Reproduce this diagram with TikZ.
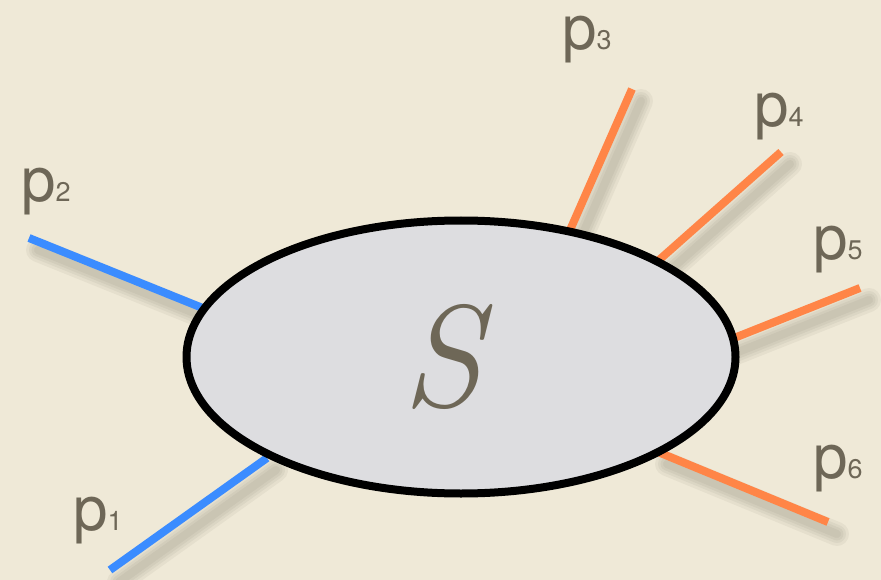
\documentclass[tikz,border=0pt]{standalone}
\usepackage{fontspec}
\setsansfont{TeX Gyre Heros}
\usetikzlibrary{shapes.geometric}
\definecolor{sbg}{HTML}{EFE9D7}
\definecolor{sblob}{HTML}{DDDDE0}
\definecolor{sink}{HTML}{6E6757}
\definecolor{sblue}{HTML}{3B8CFF}
\definecolor{sorange}{HTML}{FF8547}
\definecolor{sshadow}{HTML}{4A4636}
\tikzset{
  blob/.style={ellipse, draw=black, fill=sblob, line width=8pt,
               minimum width=549pt, minimum height=273pt, inner sep=0pt},
  slabel/.style={inner sep=0pt, text=sink,
                 font=\fontsize{145}{145}\selectfont\itshape},
  inleg/.style={line width=8pt, sblue},
  outleg/.style={line width=8pt, sorange},
  legshadow/.style={line width=#1, sshadow, opacity=0.06, line cap=round,
                    transform canvas={shift={(9,12)}}},
  plabel/.style={anchor=base west, inner sep=0pt, text=sink,
                 font=\sffamily\fontsize{62}{62}\selectfont},
}
\newcommand{\psub}[1]{{\fontsize{27}{27}\selectfont #1}}

\begin{document}
\begin{tikzpicture}[x=1pt, y=-1pt]
    \fill[sbg] (0,0) rectangle (881,580);

    % outer and inner ends of the legs
    \coordinate (e1) at (110,570);  \coordinate (i1) at (267,458);
    \coordinate (e2) at (29,238);   \coordinate (i2) at (215,313);
    \coordinate (e3) at (632,89);   \coordinate (i3) at (567,237);
    \coordinate (e4) at (781,152);  \coordinate (i4) at (650,268);
    \coordinate (e5) at (860,288);  \coordinate (i5) at (724,342);
    \coordinate (e6) at (828,522);  \coordinate (i6) at (658,452);

    % soft shadows
    \foreach \k in {1,...,6}
      \foreach \w in {8pt,13pt,18pt,24pt}
        \draw[legshadow=\w] (e\k) -- (i\k);

    \draw[inleg] (e1) -- (i1);
    \draw[inleg] (e2) -- (i2);
    \draw[outleg] (e3) -- (i3);
    \draw[outleg] (e4) -- (i4);
    \draw[outleg] (e5) -- (i5);
    \draw[outleg] (e6) -- (i6);

    \node[blob] (S) at (461,357) {};
    \node[slabel] (Sname) at ([xshift=-19pt]S.center) {S};

    \node[plabel] (l1) at (73,530) {p\psub{1}};
    \node[plabel] (l2) at (21,202) {p\psub{2}};
    \node[plabel] (l3) at (562,50) {p\psub{3}};
    \node[plabel] (l4) at (754,127) {p\psub{4}};
    \node[plabel] (l5) at (813,260) {p\psub{5}};
    \node[plabel] (l6) at (813,478) {p\psub{6}};
  \end{tikzpicture}
\end{document}
